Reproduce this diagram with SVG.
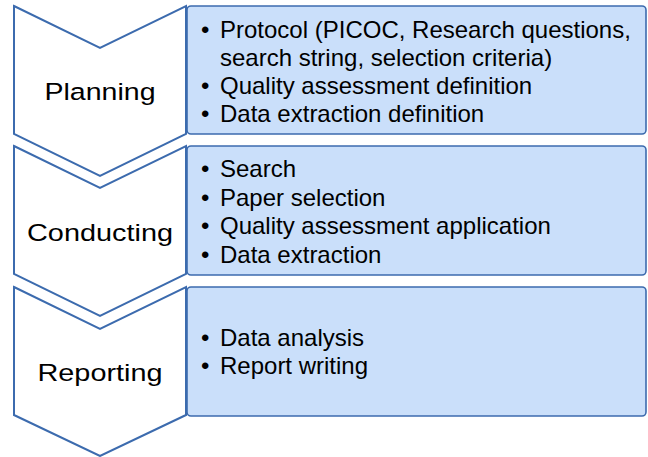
<svg xmlns="http://www.w3.org/2000/svg" width="648" height="457" viewBox="0 0 648 457">
  <style>
    .chev { fill: #ffffff; stroke: #3C6BAE; stroke-width: 2; stroke-linejoin: miter; }
    .box { fill: #CADFFA; stroke: #3C6BAE; stroke-width: 1.6; }
    .label { font-family: "Liberation Sans", Arial, sans-serif; font-size: 24.5px; fill: #000; text-anchor: middle; }
    .item { font-family: "Liberation Sans", Arial, sans-serif; font-size: 24px; fill: #000; }
  </style>
  <rect width="648" height="457" fill="#ffffff"/>

  <!-- Planning stage -->
  <g id="planning">
    <path class="chev" d="M14,6 L100,48 L186,6 L186,134 L100,176 L14,134 Z"/>
    <text class="label" x="100" y="100" textLength="111" lengthAdjust="spacingAndGlyphs">Planning</text>
  </g>
  <g id="planning-tasks">
    <rect class="box" x="187" y="6" width="459" height="128" rx="4"/>
    <g class="item">
      <text x="201" y="38">•</text><text x="220" y="38">Protocol (PICOC, Research questions,</text>
      <text x="220" y="66">search string, selection criteria)</text>
      <text x="201" y="94">•</text><text x="220" y="94">Quality assessment definition</text>
      <text x="201" y="122">•</text><text x="220" y="122">Data extraction definition</text>
    </g>
  </g>

  <!-- Conducting stage -->
  <g id="conducting">
    <path class="chev" d="M14,146 L100,188 L186,146 L186,274 L100,316 L14,274 Z"/>
    <text class="label" x="100" y="241" textLength="146" lengthAdjust="spacingAndGlyphs">Conducting</text>
  </g>
  <g id="conducting-tasks">
    <rect class="box" x="187" y="146" width="459" height="129" rx="4"/>
    <g class="item">
      <text x="201" y="177">•</text><text x="220" y="177">Search</text>
      <text x="201" y="206">•</text><text x="220" y="206">Paper selection</text>
      <text x="201" y="234">•</text><text x="220" y="234">Quality assessment application</text>
      <text x="201" y="263">•</text><text x="220" y="263">Data extraction</text>
    </g>
  </g>

  <!-- Reporting stage -->
  <g id="reporting">
    <path class="chev" d="M14,287 L100,329 L186,287 L186,415 L100,456 L14,415 Z"/>
    <text class="label" x="100" y="381" textLength="125" lengthAdjust="spacingAndGlyphs">Reporting</text>
  </g>
  <g id="reporting-tasks">
    <rect class="box" x="187" y="287" width="459" height="129" rx="4"/>
    <g class="item">
      <text x="201" y="346">•</text><text x="220" y="346">Data analysis</text>
      <text x="201" y="374">•</text><text x="220" y="374">Report writing</text>
    </g>
  </g>

  <g id="connectors"></g>
</svg>
